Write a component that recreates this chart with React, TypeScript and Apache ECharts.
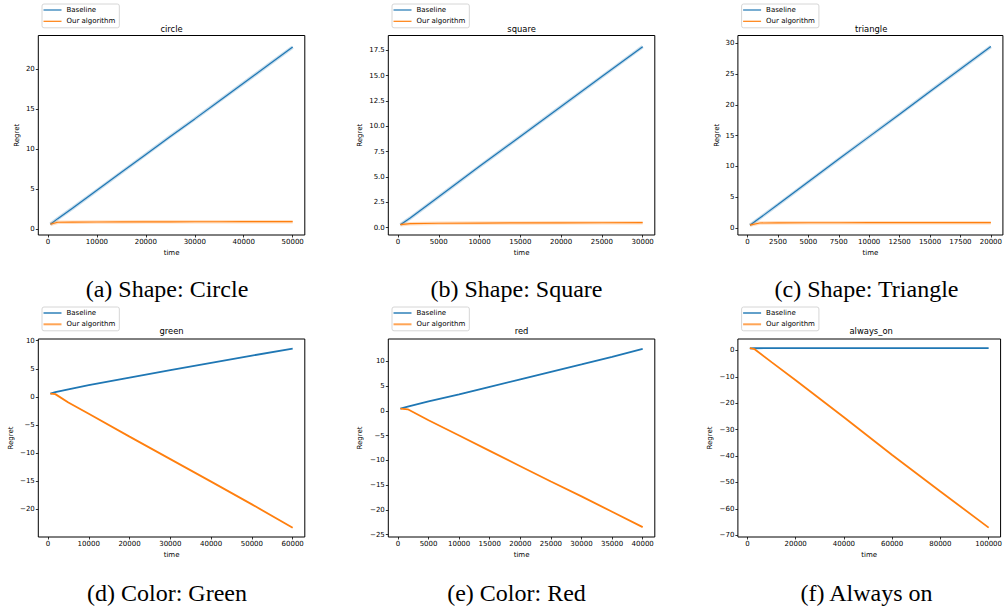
import React, { useEffect, useRef } from "react";
import * as echarts from "echarts";

// ---------- data ----------
const circleTime = [500, 2000, 5000, 10000, 15000, 20000, 25000, 30000, 35000, 40000, 45000, 50000];
const circleBaseline = [0.6, 1.3, 2.6, 4.85, 7.1, 9.35, 11.6, 13.8, 16.05, 18.3, 20.55, 22.8];
const circleOurs = [0.6, 0.85, 0.86, 0.88, 0.89, 0.9, 0.9, 0.91, 0.91, 0.92, 0.92, 0.92];

const squareTime = [300, 1500, 5000, 10000, 15000, 20000, 25000, 30000];
const squareBaseline = [0.3, 0.95, 3.05, 6.05, 9.0, 11.95, 14.9, 17.85];
const squareOurs = [0.3, 0.4, 0.44, 0.46, 0.47, 0.48, 0.49, 0.5];

const triangleTime = [200, 1000, 2500, 5000, 7500, 10000, 12500, 15000, 17500, 20000];
const triangleBaseline = [0.45, 1.6, 3.8, 7.5, 11.2, 14.85, 18.5, 22.2, 25.85, 29.5];
const triangleOurs = [0.45, 0.8, 0.83, 0.84, 0.84, 0.85, 0.85, 0.85, 0.85, 0.85];

const greenTime = [600, 1800, 5000, 10000, 20000, 30000, 40000, 50000, 60000];
const greenBaseline = [0.6, 0.85, 1.35, 2.1, 3.45, 4.75, 6.05, 7.35, 8.6];
const greenOurs = [0.6, 0.5, -1.0, -3.0, -7.05, -11.05, -15.05, -19.1, -23.25];

const redTime = [400, 1600, 5000, 10000, 15000, 20000, 25000, 30000, 35000, 40000];
const redBaseline = [0.45, 0.85, 1.9, 3.3, 4.85, 6.35, 7.85, 9.35, 10.9, 12.5];
const redOurs = [0.45, 0.3, -1.9, -5.0, -8.1, -11.2, -14.3, -17.3, -20.4, -23.5];

const alwaysOnTime = [1000, 3000, 10000, 20000, 40000, 60000, 80000, 100000];
const alwaysOnBaseline = [0.8, 0.85, 0.88, 0.9, 0.9, 0.9, 0.9, 0.9];
const alwaysOnOurs = [0.9, 0.5, -4.4, -11.3, -25.3, -39.6, -53.4, -67.1];

// tick labels
const xTicksCircle = [0, 10000, 20000, 30000, 40000, 50000];
const yTicksCircle = [0, 5, 10, 15, 20];
const xTicksSquare = [0, 5000, 10000, 15000, 20000, 25000, 30000];
const yTicksSquare = [0, 2.5, 5, 7.5, 10, 12.5, 15, 17.5];
const xTicksTriangle = [0, 2500, 5000, 7500, 10000, 12500, 15000, 17500, 20000];
const yTicksTriangle = [0, 5, 10, 15, 20, 25, 30];
const xTicksGreen = [0, 10000, 20000, 30000, 40000, 50000, 60000];
const yTicksGreen = [-25, -20, -15, -10, -5, 0, 5, 10];
const xTicksRed = [0, 5000, 10000, 15000, 20000, 25000, 30000, 35000, 40000];
const yTicksRed = [-25, -20, -15, -10, -5, 0, 5, 10];
const xTicksAlwaysOn = [0, 20000, 40000, 60000, 80000, 100000];
const yTicksAlwaysOn = [-70, -60, -50, -40, -30, -20, -10, 0];

const titles = ["circle", "square", "triangle", "green", "red", "always_on"];
const captions = [
  "(a) Shape: Circle",
  "(b) Shape: Square",
  "(c) Shape: Triangle",
  "(d) Color: Green",
  "(e) Color: Red",
  "(f) Always on",
];
const seriesNames = ["Baseline", "Our algorithm"];

// ---------- layout / style ----------
const FONT = "DejaVu Sans";
const SERIF = "'Liberation Serif', 'Times New Roman', Times, serif";
const BLUE = "#1f77b4";
const ORANGE = "#ff7f0e";

const colLeft = [38.3, 388.3, 737.9];
const colCaptionX = [167, 516.5, 866.5];
const gridWidth = 266.5;
const rowTop = [35.5, 339];
const rowHeight = [199.5, 198];
const rowTitleY = [28.8, 331];
const rowLegendTop = [4, 307];
const rowCaptionY = [289, 593];

const panels = [
  { time: circleTime, base: circleBaseline, ours: circleOurs, xTicks: xTicksCircle, yTicks: yTicksCircle, xRange: [-1975, 52475], yRange: [-0.75, 24.25], dec: 0, nameGap: 17.5 },
  { time: squareTime, base: squareBaseline, ours: squareOurs, xTicks: xTicksSquare, yTicks: yTicksSquare, xRange: [-1185, 31485], yRange: [-0.72, 18.95], dec: 1, nameGap: 25 },
  { time: triangleTime, base: triangleBaseline, ours: triangleOurs, xTicks: xTicksTriangle, yTicks: yTicksTriangle, xRange: [-790, 20990], yRange: [-1.15, 31.3], dec: 0, nameGap: 17 },
  { time: greenTime, base: greenBaseline, ours: greenOurs, xTicks: xTicksGreen, yTicks: yTicksGreen, xRange: [-2370, 62970], yRange: [-24.9, 10.3], dec: 0, nameGap: 23.5 },
  { time: redTime, base: redBaseline, ours: redOurs, xTicks: xTicksRed, yTicks: yTicksRed, xRange: [-1580, 41980], yRange: [-25.5, 14.5], dec: 0, nameGap: 25 },
  { time: alwaysOnTime, base: alwaysOnBaseline, ours: alwaysOnOurs, xTicks: xTicksAlwaysOn, yTicks: yTicksAlwaysOn, xRange: [-3950, 104950], yRange: [-70.65, 4.35], dec: 0, nameGap: 24.5 },
];

const fmt = (v: number, dec: number) => v.toFixed(dec).replace("-", "\u2212");

function buildOption() {
  const grid: any[] = [];
  const xAxis: any[] = [];
  const yAxis: any[] = [];
  const series: any[] = [];
  const legend: any[] = [];
  const graphic: any[] = [];

  panels.forEach((p, i) => {
    const row = Math.floor(i / 3);
    const col = i % 3;
    const left = colLeft[col];
    const top = rowTop[row];
    grid.push({
      left,
      top,
      width: gridWidth,
      height: rowHeight[row],
      show: true,
      borderColor: "#000",
      borderWidth: 1,
      backgroundColor: "#fff",
    });
    const tickStyle = { show: true, length: 2.5, lineStyle: { color: "#000", width: 0.8 } };
    xAxis.push({
      type: "value",
      gridIndex: i,
      position: "bottom",
      min: p.xRange[0],
      max: p.xRange[1],
      axisLine: { show: false, onZero: false },
      axisTick: { ...tickStyle, customValues: p.xTicks },
      axisLabel: {
        customValues: p.xTicks,
        formatter: (v: number) => fmt(v, 0),
        fontFamily: FONT,
        fontSize: 7,
        color: "#000",
        margin: 3.5,
      },
      splitLine: { show: false },
      name: "time",
      nameLocation: "middle",
      nameGap: 14,
      nameTextStyle: { fontFamily: FONT, fontSize: 7, color: "#000" },
    });
    yAxis.push({
      type: "value",
      gridIndex: i,
      position: "left",
      min: p.yRange[0],
      max: p.yRange[1],
      axisLine: { show: false, onZero: false },
      axisTick: { ...tickStyle, customValues: p.yTicks },
      axisLabel: {
        customValues: p.yTicks,
        formatter: (v: number) => fmt(v, p.dec),
        fontFamily: FONT,
        fontSize: 7,
        color: "#000",
        margin: 3.5,
      },
      splitLine: { show: false },
      name: "Regret",
      nameLocation: "middle",
      nameGap: p.nameGap,
      nameTextStyle: { fontFamily: FONT, fontSize: 7, color: "#000" },
    });

    const topRow = row === 0;
    const mk = (name: string, t: number[], v: number[], color: string, z: number) => {
      const data = t.map((x, k) => [x, v[k]]);
      if (topRow) {
        series.push({
          name: name + " band",
          type: "line",
          xAxisIndex: i,
          yAxisIndex: i,
          data,
          showSymbol: false,
          silent: true,
          z: z - 1,
          lineStyle: { color, width: 3.5, opacity: 0.25 },
          itemStyle: { color },
        });
      }
      series.push({
        name,
        type: "line",
        xAxisIndex: i,
        yAxisIndex: i,
        data,
        showSymbol: false,
        z,
        lineStyle: { color, width: topRow ? 1.2 : 1.8 },
        itemStyle: { color },
      });
    };
    mk(seriesNames[0], p.time, p.base, BLUE, 3);
    mk(seriesNames[1], p.time, p.ours, ORANGE, 5);

    legend.push({
      data: seriesNames,
      orient: "vertical",
      left: left + 3.7,
      top: rowLegendTop[row],
      icon: "rect",
      itemWidth: 18,
      itemHeight: topRow ? 1.2 : 2,
      itemGap: 2.3,
      padding: [1.5, 4, 2, 1.5],
      backgroundColor: "#fff",
      borderColor: "#d6d6d6",
      borderWidth: 1,
      borderRadius: 2,
      selectedMode: false,
      itemStyle: { opacity: topRow ? 1 : 0.7 },
      textStyle: { fontFamily: FONT, fontSize: 7, color: "#000", lineHeight: 9 },
    });

    graphic.push({
      type: "text",
      x: left + gridWidth / 2,
      y: rowTitleY[row],
      style: {
        text: titles[i],
        fontFamily: FONT,
        fontSize: 8.4,
        fill: "#000",
        align: "center",
        verticalAlign: "middle",
      },
    });
    graphic.push({
      type: "text",
      x: colCaptionX[col],
      y: rowCaptionY[row],
      style: {
        text: captions[i],
        font: "24px " + SERIF,
        fontFamily: SERIF,
        fontSize: 24,
        fill: "#000",
        align: "center",
        verticalAlign: "middle",
      },
    });
  });

  return {
    animation: false,
    backgroundColor: "#fff",
    grid,
    xAxis,
    yAxis,
    series,
    legend,
    graphic,
  };
}

export default function App() {
  const ref = useRef<HTMLDivElement>(null);
  useEffect(() => {
    if (!ref.current) return;
    const chart = echarts.init(ref.current, undefined, { renderer: "svg" });
    chart.setOption(buildOption() as any);
    return () => chart.dispose();
  }, []);
  return (
    <div
      ref={ref}
      style={{ position: "fixed", left: 0, top: 0, width: 1005, height: 608, background: "#fff" }}
    />
  );
}
